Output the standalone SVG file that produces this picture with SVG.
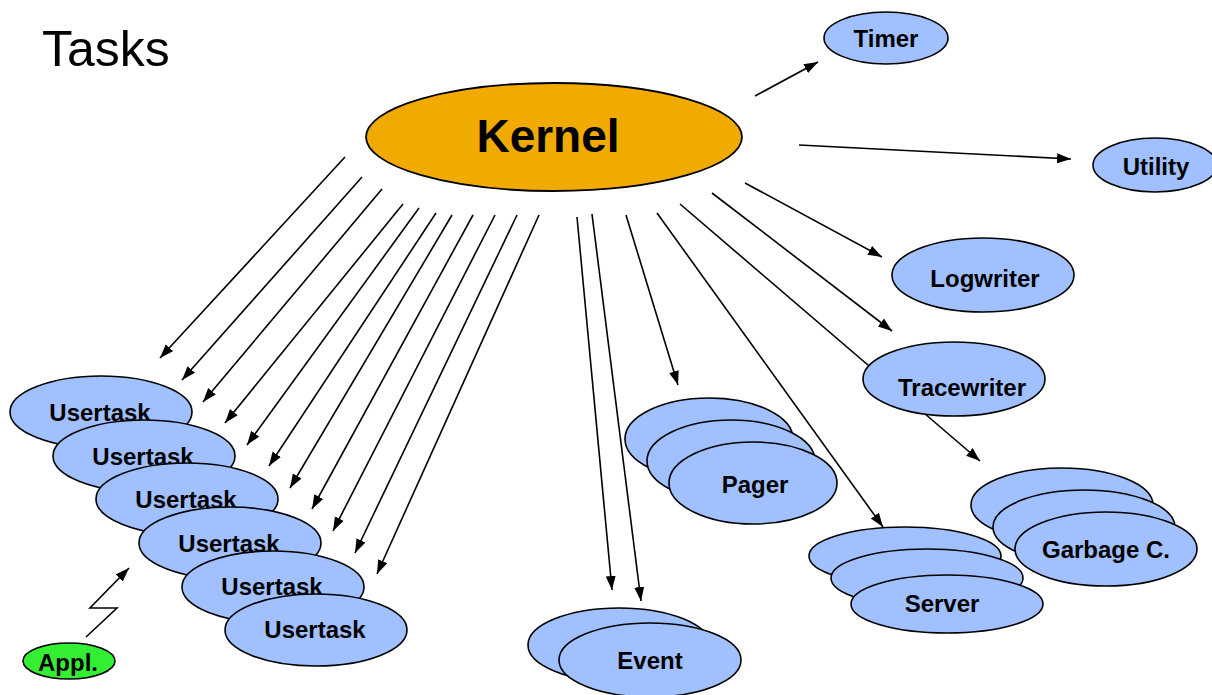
<svg xmlns="http://www.w3.org/2000/svg" width="1212" height="695" viewBox="0 0 1212 695">
  <style>
    .lbl { font-family: "Liberation Sans", Arial, sans-serif; font-weight: bold; font-size: 24px; fill: #000; text-anchor: middle; }
    .big { font-size: 46px; }
    .task { fill: #A0C0FF; stroke: #000; stroke-width: 1.6; }
    .kern { fill: #F0AA00; stroke: #000; stroke-width: 1.8; }
    .appl { fill: #33EE33; stroke: #000; stroke-width: 1.6; }
    .arr { stroke: #000; stroke-width: 1.6; fill: none; marker-end: url(#head); }
  </style>
  <defs>
    <marker id="head" markerUnits="userSpaceOnUse" markerWidth="15" markerHeight="12" refX="14" refY="5" orient="auto">
      <path d="M0,0 L14,5 L0,10 z" fill="#000"/>
    </marker>
  </defs>

  <rect width="1212" height="695" fill="#fff"/>

  <text x="42" y="66" font-family="Liberation Sans, Arial, sans-serif" font-size="50">Tasks</text>

  <!-- connectors -->
  <g id="connectors">
    <!-- kernel to user tasks -->
    <line class="arr" x1="345" y1="157" x2="160" y2="358" stroke-width="2"/>
    <line class="arr" x1="362" y1="177" x2="182" y2="380"/>
    <line class="arr" x1="382" y1="189" x2="203" y2="402"/>
    <line class="arr" x1="403" y1="204" x2="225" y2="423" stroke-width="2"/>
    <line class="arr" x1="419" y1="208" x2="247" y2="445"/>
    <line class="arr" x1="436" y1="213" x2="269" y2="466"/>
    <line class="arr" x1="452" y1="215" x2="290" y2="488" stroke-width="2"/>
    <line class="arr" x1="473" y1="215" x2="312" y2="509"/>
    <line class="arr" x1="495" y1="215" x2="333" y2="531"/>
    <line class="arr" x1="517" y1="215" x2="355" y2="553"/>
    <line class="arr" x1="539" y1="215" x2="377" y2="574" stroke-width="2"/>
    <!-- kernel to event -->
    <line class="arr" x1="577" y1="217" x2="612" y2="590"/>
    <line class="arr" x1="592" y1="214" x2="641" y2="601"/>
    <!-- kernel to pager -->
    <line class="arr" x1="626" y1="215" x2="678" y2="385"/>
    <!-- kernel to server -->
    <line class="arr" x1="657" y1="213" x2="883" y2="527" stroke-width="2"/>
    <!-- kernel to garbage collector -->
    <line class="arr" x1="680" y1="204" x2="980" y2="461" stroke-width="1.3"/>
    <!-- kernel to tracewriter -->
    <line class="arr" x1="712" y1="193" x2="892" y2="331"/>
    <!-- kernel to logwriter -->
    <line class="arr" x1="745" y1="183" x2="882" y2="257"/>
    <!-- kernel to utility -->
    <line class="arr" x1="799" y1="145" x2="1071" y2="159"/>
    <!-- kernel to timer -->
    <line class="arr" x1="755" y1="96" x2="818" y2="62"/>
    <!-- interrupt from application -->
    <polyline class="arr" points="86,637 117,608 90,608 129,568"/>
  </g>

  <g id="kernel">
    <ellipse class="kern" cx="554" cy="137" rx="188" ry="54"/>
    <text class="lbl big" x="548" y="152">Kernel</text>
  </g>

  <g id="timer">
    <ellipse class="task" cx="886" cy="38" rx="62" ry="26"/>
    <text class="lbl" x="886" y="47">Timer</text>
  </g>

  <g id="utility">
    <ellipse class="task" cx="1155" cy="165" rx="62" ry="27"/>
    <text class="lbl" x="1156" y="175">Utility</text>
  </g>

  <g id="logwriter">
    <ellipse class="task" cx="983" cy="275" rx="91" ry="37"/>
    <text class="lbl" x="985" y="287">Logwriter</text>
  </g>

  <g id="tracewriter">
    <ellipse class="task" cx="954" cy="379" rx="91" ry="37"/>
    <text class="lbl" x="962" y="396">Tracewriter</text>
  </g>

  <g id="garbage">
    <ellipse class="task" cx="1062" cy="505" rx="91" ry="37"/>
    <ellipse class="task" cx="1084" cy="527" rx="91" ry="37"/>
    <ellipse class="task" cx="1106" cy="549" rx="91" ry="37"/>
    <text class="lbl" x="1106" y="558">Garbage C.</text>
  </g>

  <g id="server">
    <ellipse class="task" cx="905" cy="556" rx="96" ry="29"/>
    <ellipse class="task" cx="927" cy="578" rx="96" ry="29"/>
    <ellipse class="task" cx="947" cy="604" rx="96" ry="29"/>
    <text class="lbl" x="942" y="612">Server</text>
  </g>

  <g id="pager">
    <ellipse class="task" cx="709" cy="439" rx="84" ry="41"/>
    <ellipse class="task" cx="731" cy="461" rx="84" ry="41"/>
    <ellipse class="task" cx="753" cy="483" rx="84" ry="41"/>
    <text class="lbl" x="755" y="493">Pager</text>
  </g>

  <g id="event">
    <ellipse class="task" cx="619" cy="645" rx="91" ry="37"/>
    <ellipse class="task" cx="650" cy="660" rx="91" ry="37"/>
    <text class="lbl" x="650" y="669">Event</text>
  </g>

  <g id="usertasks">
    <ellipse class="task" cx="101" cy="412" rx="91" ry="36"/>
    <text class="lbl" x="100" y="421">Usertask</text>
    <ellipse class="task" cx="144" cy="456" rx="91" ry="36"/>
    <text class="lbl" x="143" y="465">Usertask</text>
    <ellipse class="task" cx="187" cy="499" rx="91" ry="36"/>
    <text class="lbl" x="186" y="508">Usertask</text>
    <ellipse class="task" cx="230" cy="543" rx="91" ry="36"/>
    <text class="lbl" x="229" y="552">Usertask</text>
    <ellipse class="task" cx="273" cy="587" rx="91" ry="36"/>
    <text class="lbl" x="272" y="595">Usertask</text>
    <ellipse class="task" cx="316" cy="630" rx="91" ry="36"/>
    <text class="lbl" x="315" y="638">Usertask</text>
  </g>

  <g id="appl">
    <ellipse class="appl" cx="69" cy="661" rx="46" ry="18"/>
    <text class="lbl" x="68" y="671">Appl.</text>
  </g>
</svg>
